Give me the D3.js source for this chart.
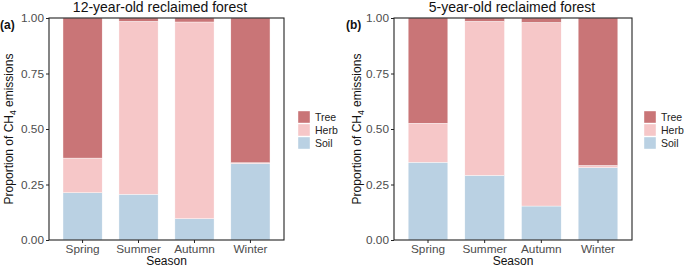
<!DOCTYPE html>
<html>
<head>
<meta charset="utf-8">
<script src="https://cdn.jsdelivr.net/npm/d3@7"></script>
<style>
  body { margin: 0; background: #fff; }
  svg { font-family: "Liberation Sans", Arial, sans-serif; }
</style>
</head>
<body>
<svg id="chart" width="685" height="267"></svg>
<script>
// data
var seasons = ["Spring", "Summer", "Autumn", "Winter"];
var sources = ["Soil", "Herb", "Tree"];
var legendOrder = ["Tree", "Herb", "Soil"];
var yTicks = [0, 0.25, 0.5, 0.75, 1];

// 12-year-old forest
var soilA = [0.213, 0.206, 0.096, 0.344];
var herbA = [0.156, 0.779, 0.886, 0.004];
var treeA = [0.631, 0.015, 0.018, 0.652];

// 5-year-old forest
var soilB = [0.350, 0.291, 0.153, 0.326];
var herbB = [0.176, 0.694, 0.827, 0.010];
var treeB = [0.474, 0.015, 0.020, 0.664];

var colors = {Tree: "#c97577", Herb: "#f6c7c8", Soil: "#bad1e3"};

var svg = d3.select("#chart");

function panel(opts) {
    var left = opts.left, right = opts.right, top = 18, bottom = 240;

    var rows = seasons.map(function(s, i) {
        return {season: s, Soil: opts.soil[i], Herb: opts.herb[i], Tree: opts.tree[i]};
    });
    var stacked = d3.stack().keys(sources)(rows);

    // ggplot style discrete expansion: 0.6 units each side
    var unit = (right - left) / (seasons.length - 1 + 1.2);
    var x = d3.scaleBand()
        .domain(seasons)
        .range([left + 0.1 * unit, right - 0.1 * unit])
        .paddingInner(0.3)
        .paddingOuter(0.15);

    var y = d3.scaleLinear().domain([0, 1]).range([bottom, top]);

    var g = svg.append("g");

    g.selectAll("g.layer")
        .data(stacked)
        .enter().append("g")
        .attr("class", "layer")
        .attr("fill", function(d) { return colors[d.key]; })
        .selectAll("rect")
        .data(function(d) { return d; })
        .enter().append("rect")
        .attr("x", function(d) { return x(d.data.season); })
        .attr("width", x.bandwidth())
        .attr("y", function(d) { return y(d[1]); })
        .attr("height", function(d) { return y(d[0]) - y(d[1]); })
        .attr("stroke", "#fff")
        .attr("stroke-width", 0.4);

    // frame
    g.append("rect")
        .attr("x", left).attr("y", top)
        .attr("width", right - left).attr("height", bottom - top)
        .attr("fill", "none").attr("stroke", "#222").attr("stroke-width", 1.1);

    // y axis
    var yAxis = d3.axisLeft(y).tickValues(yTicks).tickFormat(d3.format(".2f")).tickSize(3).tickPadding(2);
    var ya = g.append("g").attr("transform", "translate(" + left + ",0)").call(yAxis);
    ya.select(".domain").remove();
    ya.selectAll("line").attr("stroke", "#222");
    ya.selectAll("text").attr("fill", "#4d4d4d").style("font-size", "11.8px")
        .style("font-family", "Liberation Sans, Arial, sans-serif");

    // x axis
    var xAxis = d3.axisBottom(x).tickSize(3).tickPadding(2);
    var xa = g.append("g").attr("transform", "translate(0," + bottom + ")").call(xAxis);
    xa.select(".domain").remove();
    xa.selectAll("line").attr("stroke", "#222");
    xa.selectAll("text").attr("fill", "#4d4d4d").style("font-size", "11.8px")
        .style("font-family", "Liberation Sans, Arial, sans-serif");

    // titles
    g.append("text")
        .attr("x", opts.titleX).attr("y", 12)
        .attr("text-anchor", "middle")
        .style("font-size", "14px").attr("fill", "#111")
        .text(opts.title);

    g.append("text")
        .attr("x", opts.tagX).attr("y", 29)
        .style("font-size", "12px").style("font-weight", "bold").attr("fill", "#111")
        .text(opts.tag);

    g.append("text")
        .attr("x", (left + right) / 2).attr("y", 265)
        .attr("text-anchor", "middle")
        .style("font-size", "12px").attr("fill", "#111")
        .text("Season");

    var yt = g.append("text")
        .attr("transform", "translate(" + opts.ytitleX + "," + ((top + bottom) / 2) + ") rotate(-90)")
        .attr("text-anchor", "middle")
        .style("font-size", "12px").attr("fill", "#111");
    yt.append("tspan").text("Proportion of CH");
    yt.append("tspan").attr("dy", 3).style("font-size", "8.5px").text("4");
    yt.append("tspan").attr("dy", -3).text(" emissions");

    // legend
    var lg = g.append("g").attr("transform", "translate(" + opts.legendX + ",111)");
    var item = lg.selectAll("g").data(legendOrder).enter().append("g")
        .attr("transform", function(d, i) { return "translate(0," + (i * 13) + ")"; });
    item.append("rect")
        .attr("width", 12).attr("height", 12)
        .attr("fill", function(d) { return colors[d]; })
        .attr("stroke", "#fff").attr("stroke-width", 0.4);
    item.append("text")
        .attr("x", 17).attr("y", 10)
        .style("font-size", "10.5px").attr("fill", "#222")
        .text(function(d) { return d; });
}

panel({left: 49, right: 284, soil: soilA, herb: herbA, tree: treeA,
       title: "12-year-old reclaimed forest", titleX: 160, tag: "(a)", tagX: 0,
       ytitleX: 13, legendX: 298});
panel({left: 394, right: 632, soil: soilB, herb: herbB, tree: treeB,
       title: "5-year-old reclaimed forest", titleX: 512, tag: "(b)", tagX: 346,
       ytitleX: 361, legendX: 644});
</script>
</body>
</html>
